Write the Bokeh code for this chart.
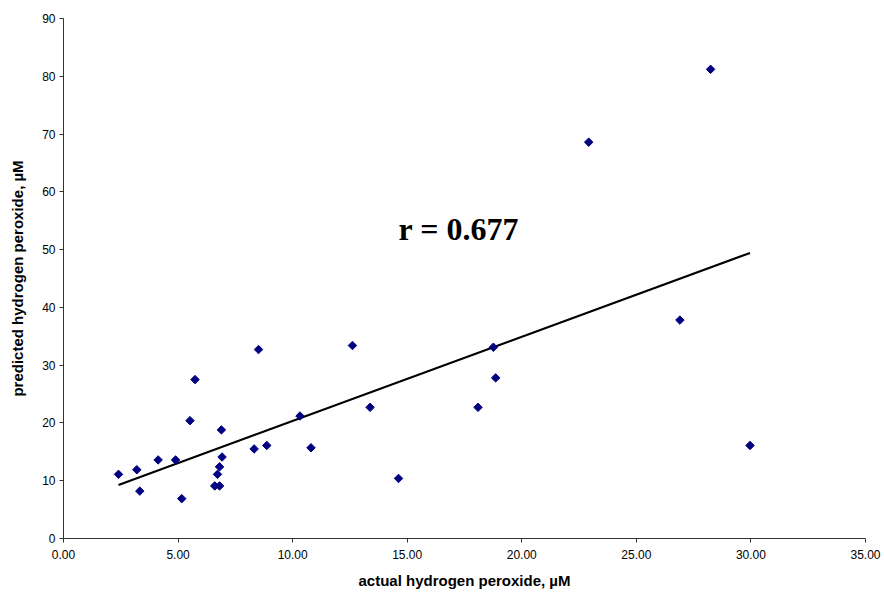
import numpy as np
from bokeh.plotting import figure
from bokeh.models import Range1d, SingleIntervalTicker, PrintfTickFormatter, Label
from bokeh.embed import file_html
from bokeh.resources import INLINE

# actual hydrogen peroxide (µM)
actual = [2.40, 3.20, 3.33, 4.13, 4.89, 5.16, 5.52, 5.74, 6.60, 6.81,
          6.72, 6.81, 6.92, 6.89, 8.32, 8.51, 8.87, 10.32, 10.80, 12.61,
          13.38, 14.62, 18.09, 18.76, 18.86, 22.92, 28.24, 26.90, 29.96]
# predicted hydrogen peroxide (µM)
predicted = [11.1, 11.9, 8.2, 13.6, 13.6, 6.9, 20.4, 27.5, 9.1, 9.1,
             11.1, 12.4, 14.1, 18.8, 15.5, 32.7, 16.1, 21.2, 15.7, 33.4,
             22.7, 10.4, 22.7, 33.1, 27.8, 68.6, 81.2, 37.8, 16.1]
r_text = "r = 0.677"

x_ticks_interval = 5
y_ticks_interval = 10

p = figure(width=884, height=592, output_backend="svg", toolbar_location=None,
           x_range=Range1d(0, 35), y_range=Range1d(0, 90),
           min_border_left=63, min_border_right=19, min_border_top=18,
           min_border_bottom=54)
p.outline_line_color = None
p.grid.visible = False
p.background_fill_color = "white"
p.border_fill_color = "white"

# trend line (least squares fit of the data)
ax = np.array(actual)
pr = np.array(predicted)
slope, intercept = np.polyfit(ax, pr, 1)
lx = np.array([ax.min(), ax.max()])
p.line(lx, slope * lx + intercept, line_color="black", line_width=2.2)

p.scatter(actual, predicted, marker="square", angle=np.pi / 4, size=6,
          fill_color="#000080", line_color="#000080")

for axis, interval in ((p.xaxis, x_ticks_interval), (p.yaxis, y_ticks_interval)):
    axis.ticker = SingleIntervalTicker(interval=interval, num_minor_ticks=0)
    axis.major_tick_in = 0
    axis.major_tick_out = 4
    axis.minor_tick_in = 0
    axis.minor_tick_out = 0
    axis.axis_line_color = "#333333"
    axis.major_tick_line_color = "#333333"
    axis.major_label_text_font = "Liberation Sans"
    axis.major_label_text_font_size = "12px"
    axis.major_label_text_color = "black"
    axis.axis_label_text_font = "Liberation Sans"
    axis.axis_label_text_font_style = "bold"
    axis.axis_label_text_font_size = "15px"
    axis.axis_label_text_color = "black"

p.xaxis.formatter = PrintfTickFormatter(format="%.2f")
p.xaxis.axis_label = "actual hydrogen peroxide, µM"
p.yaxis.axis_label = "predicted hydrogen peroxide, µM"
p.xaxis.major_label_standoff = 7
p.yaxis.major_label_standoff = 4
p.xaxis.axis_label_standoff = 10
p.yaxis.axis_label_standoff = 13

p.add_layout(Label(x=17.25, y=53.6, text=r_text, text_align="center",
                   text_baseline="middle", text_font="Liberation Serif",
                   text_font_style="bold", text_font_size="32px",
                   text_color="black"))

open("out.html", "w").write(file_html(p, INLINE))
